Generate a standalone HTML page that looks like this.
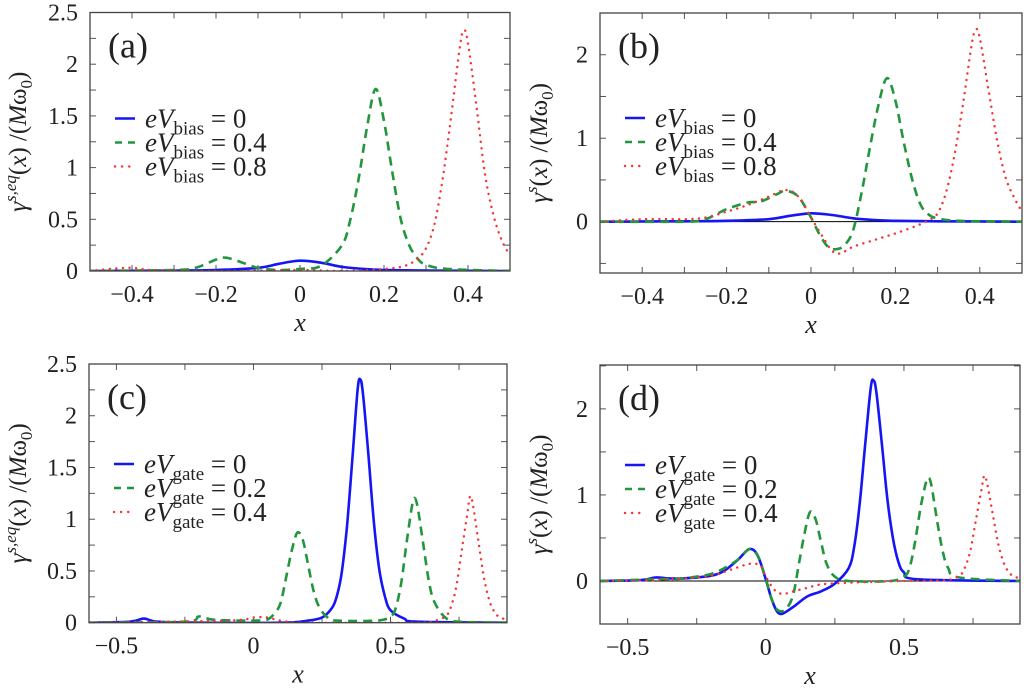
<!DOCTYPE html>
<html><head><meta charset="utf-8"><style>
body{margin:0;background:#fff;width:1024px;height:684px;overflow:hidden}
svg, svg text{font-family:"Liberation Serif","DejaVu Serif",serif}
</style></head><body>
<svg id="fig" width="1024" height="684" viewBox="0 0 1024 684" font-family="Liberation Serif, DejaVu Serif, serif"></svg>
<script>
// ---- data arrays ----
const aBlueX=[-0.5,-0.3,-0.2,-0.1,-0.05,0,0.05,0.1,0.15,0.2,0.3,0.5];
const aBlueY=[0,0.005,0.01,0.03,0.07,0.1,0.08,0.04,0.02,0.01,0.005,0];
const aGreenX=[-0.5,-0.3,-0.25,-0.2,-0.18,-0.15,-0.1,-0.05,0,0.05,0.1,0.12,0.14,0.16,0.18,0.2,0.22,0.24,0.26,0.28,0.3,0.35,0.5];
const aGreenY=[0,0.01,0.03,0.11,0.13,0.1,0.03,0.01,0.02,0.05,0.25,0.5,0.9,1.4,1.76,1.45,0.95,0.5,0.25,0.12,0.06,0.02,0];
const aRedX=[-0.5,-0.45,-0.4,-0.35,-0.2,0,0.1,0.2,0.25,0.28,0.3,0.32,0.34,0.36,0.38,0.39,0.4,0.42,0.44,0.46,0.48,0.5];
const aRedY=[0,0.02,0.03,0.01,0,0.01,0,0.02,0.05,0.12,0.22,0.45,0.9,1.5,2.15,2.33,2.2,1.6,0.95,0.55,0.3,0.15];

const bBlueX=[-0.5,-0.3,-0.2,-0.1,-0.05,0,0.05,0.1,0.15,0.2,0.3,0.5];
const bBlueY=[0,0.005,0.01,0.03,0.07,0.1,0.08,0.04,0.02,0.01,0.005,0];
const bGreenX=[-0.5,-0.3,-0.25,-0.2,-0.15,-0.12,-0.08,-0.06,-0.03,0,0.02,0.04,0.06,0.08,0.1,0.12,0.14,0.16,0.18,0.2,0.22,0.24,0.26,0.28,0.3,0.35,0.5];
const bGreenY=[0,0,0.03,0.15,0.23,0.24,0.33,0.37,0.3,0.05,-0.15,-0.3,-0.33,-0.28,-0.1,0.35,0.9,1.4,1.72,1.45,0.95,0.5,0.2,0.08,0.04,0.01,0];
const bRedX=[-0.5,-0.4,-0.3,-0.25,-0.2,-0.15,-0.1,-0.06,-0.03,0,0.03,0.05,0.07,0.1,0.15,0.2,0.25,0.28,0.3,0.32,0.34,0.36,0.38,0.39,0.4,0.42,0.44,0.46,0.48,0.5];
const bRedY=[0,0.03,0.03,0.05,0.12,0.2,0.3,0.38,0.3,0.05,-0.2,-0.35,-0.38,-0.3,-0.22,-0.14,-0.05,0.02,0.1,0.35,0.8,1.4,2.1,2.3,2.2,1.6,1.0,0.55,0.3,0.12];

const cBlueX=[-0.6,-0.45,-0.4,-0.35,-0.2,0.1,0.2,0.25,0.28,0.3,0.32,0.34,0.36,0.38,0.39,0.4,0.42,0.44,0.46,0.48,0.5,0.55,0.6,0.925];
const cBlueY=[0,0.01,0.04,0.01,0,0,0.02,0.05,0.12,0.22,0.45,0.9,1.55,2.25,2.35,2.2,1.6,0.95,0.5,0.25,0.12,0.04,0.01,0];
const cGreenX=[-0.6,-0.25,-0.2,-0.15,-0.05,0,0.05,0.08,0.1,0.12,0.14,0.16,0.18,0.2,0.22,0.24,0.27,0.3,0.45,0.5,0.52,0.54,0.56,0.58,0.59,0.6,0.62,0.64,0.66,0.7,0.75,0.925];
const cGreenY=[0,0.01,0.06,0.03,0.02,0.02,0.03,0.1,0.2,0.45,0.7,0.87,0.8,0.55,0.3,0.15,0.05,0.02,0.02,0.06,0.15,0.4,0.8,1.15,1.2,1.1,0.75,0.4,0.2,0.05,0.01,0];
const cRedX=[-0.6,-0.1,0,0.05,0.1,0.2,0.6,0.65,0.7,0.72,0.74,0.76,0.78,0.79,0.8,0.82,0.84,0.86,0.88,0.9,0.925];
const cRedY=[0,0.02,0.05,0.05,0.02,0,0,0.01,0.06,0.15,0.35,0.7,1.05,1.22,1.15,0.8,0.45,0.22,0.1,0.05,0.03];

const dBlueX=[-0.6,-0.45,-0.4,-0.35,-0.3,-0.2,-0.15,-0.1,-0.06,-0.03,0,0.02,0.04,0.06,0.1,0.15,0.2,0.25,0.3,0.32,0.34,0.36,0.38,0.39,0.4,0.42,0.44,0.46,0.48,0.5,0.55,0.925];
const dBlueY=[0,0.01,0.04,0.03,0.03,0.06,0.12,0.25,0.37,0.3,0.02,-0.2,-0.35,-0.38,-0.3,-0.18,-0.12,-0.03,0.15,0.4,0.9,1.6,2.25,2.33,2.2,1.6,0.95,0.5,0.22,0.1,0.02,0];
const dGreenX=[-0.6,-0.4,-0.3,-0.2,-0.15,-0.1,-0.06,-0.03,0,0.02,0.04,0.06,0.08,0.1,0.12,0.14,0.16,0.18,0.2,0.22,0.25,0.3,0.45,0.5,0.52,0.54,0.56,0.58,0.59,0.6,0.62,0.64,0.66,0.7,0.925];
const dGreenY=[0,0.02,0.03,0.08,0.15,0.25,0.37,0.3,0.02,-0.2,-0.33,-0.35,-0.3,-0.15,0.2,0.55,0.8,0.72,0.45,0.2,0.05,0,0,0.05,0.15,0.45,0.85,1.15,1.2,1.1,0.7,0.35,0.15,0.04,0];
const dRedX=[-0.6,-0.4,-0.3,-0.2,-0.1,-0.06,-0.02,0,0.03,0.06,0.1,0.15,0.2,0.3,0.5,0.65,0.7,0.72,0.74,0.76,0.78,0.79,0.8,0.82,0.84,0.86,0.88,0.9,0.925];
const dRedY=[0,0.01,0.03,0.06,0.16,0.2,0.18,0.05,-0.1,-0.15,-0.12,-0.08,-0.04,-0.02,0,0.01,0.06,0.15,0.35,0.7,1.05,1.22,1.15,0.8,0.45,0.22,0.1,0.05,0.03];

const abXTicks=[-0.4,-0.2,0,0.2,0.4];
const abXTickLabels=["\u22120.4","\u22120.2","0","0.2","0.4"];
const cdXTicks=[-0.5,0,0.5];
const cdXTickLabels=["\u22120.5","0","0.5"];
const acYTicks=[0,0.5,1,1.5,2,2.5];
const acYTickLabels=["0","0.5","1","1.5","2","2.5"];
const bdYTicks=[0,1,2];
const bdYTickLabels=["0","1","2"];
const biasLegend=["0","0.4","0.8"];
const gateLegend=["0","0.2","0.4"];

const NS="http://www.w3.org/2000/svg";
const FONT="Liberation Serif, DejaVu Serif, serif";
const svg=document.getElementById('fig');
function mk(tag,attrs,parent){const e=document.createElementNS(NS,tag);for(const k in attrs)e.setAttribute(k,attrs[k]);if(tag==='text')e.setAttribute('font-family',FONT);(parent||svg).appendChild(e);return e;}
const COL={blue:"#1515f5",green:"#22963c",red:"#f53535"};
const STY={blue:{w:2.6,d:""},green:{w:2.6,d:"9,6"},red:{w:2.4,d:"0.1,6.5"}};

function smoothPath(pts){
  let d='M'+pts[0][0].toFixed(1)+','+pts[0][1].toFixed(1);
  for(let i=0;i<pts.length-1;i++){
    const p0=pts[Math.max(0,i-1)],p1=pts[i],p2=pts[i+1],p3=pts[Math.min(pts.length-1,i+2)];
    const c1x=p1[0]+(p2[0]-p0[0])/6,c1y=p1[1]+(p2[1]-p0[1])/6;
    const c2x=p2[0]-(p3[0]-p1[0])/6,c2y=p2[1]-(p3[1]-p1[1])/6;
    d+='C'+c1x.toFixed(1)+','+c1y.toFixed(1)+' '+c2x.toFixed(1)+','+c2y.toFixed(1)+' '+p2[0].toFixed(1)+','+p2[1].toFixed(1);
  }
  return d;
}

function panel(p){
  const g=mk('g',{});
  
  
  const sx=v=>p.L+(v-p.x0)/(p.x1-p.x0)*(p.R-p.L);
  const sy=v=>p.B-(v-p.y0)/(p.y1-p.y0)*(p.B-p.T);
  const clipId='clip'+p.id;
  const cp=mk('clipPath',{id:clipId},g);mk('rect',{x:p.L,y:p.T,width:p.R-p.L,height:p.B-p.T},cp);
  if(p.y0<0){const z=mk('line',{x1:p.L,x2:p.R,y1:sy(0),y2:sy(0),stroke:"#000","stroke-width":1},g);
    }
  for(let v=p.xmin_t;v<=p.x1+1e-9;v+=p.xstep){const x=sx(v);
    mk('line',{x1:x,x2:x,y1:p.B,y2:p.B-6,stroke:"#555","stroke-width":1},g);
    mk('line',{x1:x,x2:x,y1:p.T,y2:p.T+6,stroke:"#555","stroke-width":1},g);}
  for(let v=p.ymin_t;v<=p.y1+1e-9;v+=p.ystep){const y=sy(v);
    mk('line',{x1:p.L,x2:p.L+6,y1:y,y2:y,stroke:"#555","stroke-width":1},g);
    mk('line',{x1:p.R,x2:p.R-6,y1:y,y2:y,stroke:"#555","stroke-width":1},g);}
  p.xt.forEach((v,i)=>{const t=mk('text',{x:sx(v),y:p.B+31,"font-size":24,"text-anchor":"middle",fill:"#222"},g);t.textContent=p.xl[i];
    });
  p.yt.forEach((v,i)=>{const t=mk('text',{x:p.L-12,y:sy(v)+8,"font-size":24,"text-anchor":"end",fill:"#222"},g);t.textContent=p.yl[i];
    });
  p.series.forEach(s=>{const pts=s.x.map((xv,i)=>[sx(xv),sy(s.y[i])]);
    const st=STY[s.c];
    const path=mk('path',{d:smoothPath(pts),fill:"none",stroke:COL[s.c],"stroke-width":st.w,"stroke-dasharray":st.d,"stroke-linecap":s.c==='red'?'round':'butt',"stroke-linejoin":"round","clip-path":"url(#"+clipId+")"},g);
    });
  const box=mk('rect',{x:p.L,y:p.T,width:p.R-p.L,height:p.B-p.T,fill:"none",stroke:"#444","stroke-width":1.3},g);
  
  const lb=mk('text',{x:p.L+18,y:p.T+45,"font-size":36,fill:"#222"},g);lb.textContent='('+p.id+')';
  
  const lg=mk('g',{},g);
  ['blue','green','red'].forEach((c,i)=>{const y=p.T+p.legT+i*24;
    const st=STY[c];
    mk('line',{x1:p.L+25,x2:p.L+45,y1:y,y2:y,stroke:COL[c],"stroke-width":st.w,"stroke-dasharray":c==='green'?"7,6":c==='red'?"0.1,7":"","stroke-linecap":c==='red'?'round':'butt'},lg);
    const t=mk('text',{x:p.L+55,y:y+9,"font-size":27,fill:"#222"},lg);
    
    t.innerHTML='<tspan font-style="italic">eV</tspan><tspan font-size="19" dy="7">'+p.sub+'</tspan><tspan dy="-7"> = '+p.leg[i]+'</tspan>';});
  const xt=mk('text',{x:(p.L+p.R)/2,y:p.B+60,"font-size":26,"font-style":"italic","text-anchor":"middle",fill:"#222"},g);xt.textContent='x';
  
  const cy=(p.T+p.B)/2;
  const yt=mk('text',{x:p.ytx,y:cy,"font-size":25,"text-anchor":"middle",fill:"#222",transform:"rotate(-90 "+p.ytx+" "+cy+")"},g);
  
  yt.innerHTML='<tspan font-style="italic">γ</tspan><tspan font-size="17" dy="-10" font-style="italic">'+p.sup+'</tspan><tspan dy="10">(</tspan><tspan font-style="italic">x</tspan>) /(<tspan font-style="italic">M</tspan>ω<tspan font-size="17" dy="6">0</tspan><tspan dy="-6">)</tspan>';
}
panel({id:'a',L:90,R:510,T:12.5,B:271,x0:-0.5,x1:0.5,y0:0,y1:2.5,xmin_t:-0.5,xstep:0.1,ymin_t:0,ystep:0.25,
  xt:abXTicks,xl:abXTickLabels,yt:acYTicks,yl:acYTickLabels,sub:'bias',leg:biasLegend,legT:106,sup:'s,eq',ytx:26,
  series:[{c:'blue',x:aBlueX,y:aBlueY},{c:'green',x:aGreenX,y:aGreenY},{c:'red',x:aRedX,y:aRedY}]});
panel({id:'b',L:600,R:1022,T:13,B:273,x0:-0.5,x1:0.5,y0:-0.615,y1:2.5,xmin_t:-0.5,xstep:0.1,ymin_t:-0.5,ystep:0.5,
  xt:abXTicks,xl:abXTickLabels,yt:bdYTicks,yl:bdYTickLabels,sub:'bias',leg:biasLegend,legT:105,sup:'s',ytx:547,
  series:[{c:'blue',x:bBlueX,y:bBlueY},{c:'green',x:bGreenX,y:bGreenY},{c:'red',x:bRedX,y:bRedY}]});
panel({id:'c',L:89,R:507,T:364,B:622.7,x0:-0.6,x1:0.925,y0:0,y1:2.5,xmin_t:-0.5,xstep:0.25,ymin_t:0,ystep:0.25,
  xt:cdXTicks,xl:cdXTickLabels,yt:acYTicks,yl:acYTickLabels,sub:'gate',leg:gateLegend,legT:100,sup:'s,eq',ytx:26,
  series:[{c:'blue',x:cBlueX,y:cBlueY},{c:'green',x:cGreenX,y:cGreenY},{c:'red',x:cRedX,y:cRedY}]});
panel({id:'d',L:600,R:1020,T:365,B:624,x0:-0.6,x1:0.92,y0:-0.5,y1:2.51,xmin_t:-0.5,xstep:0.25,ymin_t:-0.5,ystep:0.5,
  xt:cdXTicks,xl:cdXTickLabels,yt:bdYTicks,yl:bdYTickLabels,sub:'gate',leg:gateLegend,legT:100,sup:'s',ytx:547,
  series:[{c:'blue',x:dBlueX,y:dBlueY},{c:'green',x:dGreenX,y:dGreenY},{c:'red',x:dRedX,y:dRedY}]});
</script>
</body></html>
